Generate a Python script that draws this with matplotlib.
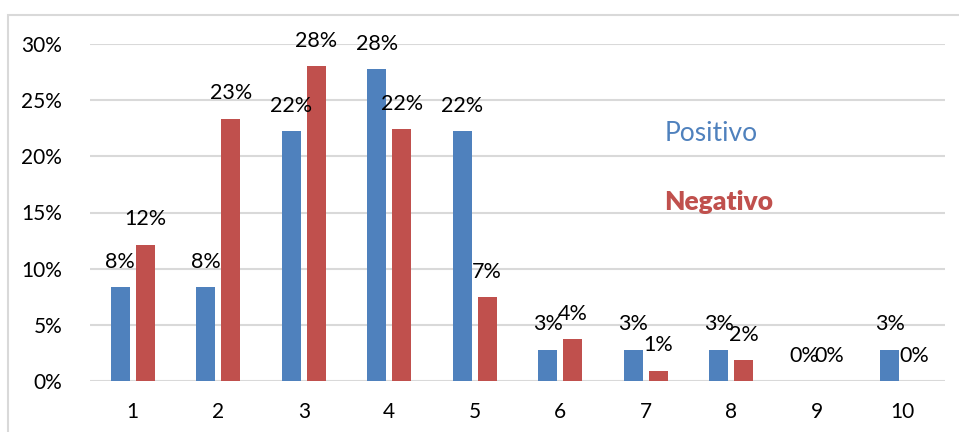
import numpy as np
import matplotlib
matplotlib.use("Agg")
import matplotlib.pyplot as plt
from matplotlib.patches import Rectangle
from matplotlib.ticker import PercentFormatter

# ── data ─────────────────────────────────────────────────────────────
categories = ["1", "2", "3", "4", "5", "6", "7", "8", "9", "10"]
positivo = [8.33, 8.33, 22.22, 27.78, 22.22, 2.78, 2.78, 2.78, 0.0, 2.78]
negativo = [12.15, 23.36, 28.04, 22.43, 7.48, 3.74, 0.93, 1.87, 0.0, 0.0]
yticks = [0, 5, 10, 15, 20, 25, 30]

BLUE = "#4F81BD"
RED = "#C0504D"
GRID = "#D9D9D9"

plt.rcParams["font.family"] = ["Lato", "DejaVu Sans"]

fig = plt.figure(figsize=(9.59, 4.32), dpi=100)
ax = fig.add_axes([90 / 959, 1 - 381 / 432, 855 / 959, (381 - 44) / 432])

x = np.arange(len(categories))
w = 0.225
off = 0.145
bars_p = ax.bar(x - off, positivo, w, color=BLUE, zorder=3)
bars_n = ax.bar(x + off, negativo, w, color=RED, zorder=3)

for bars, vals in ((bars_p, positivo), (bars_n, negativo)):
    for b, v in zip(bars, vals):
        ax.annotate(f"{v:.0f}%", (b.get_x() + b.get_width() / 2, v),
                    xytext=(0, 11), textcoords="offset points",
                    ha="center", va="bottom", fontsize=15.5, color="#000000")

ax.set_xlim(-0.5, len(categories) - 0.5)
ax.set_ylim(0, 30)
ax.set_yticks(yticks)
ax.yaxis.set_major_formatter(PercentFormatter(decimals=0))
ax.set_xticks(x)
ax.set_xticklabels(categories)
ax.tick_params(length=0, labelsize=15, colors="#000000")
ax.tick_params(axis="y", pad=20)
ax.tick_params(axis="x", pad=15)
ax.grid(axis="y", color=GRID, linewidth=1.5, zorder=0)
for s in ax.spines.values():
    s.set_visible(False)

ax.text(0.672, 0.733, "Positivo", transform=ax.transAxes, color=BLUE,
        fontsize=19, va="center", ha="left")
ax.text(0.672, 0.53, "Negativo", transform=ax.transAxes, color=RED,
        fontsize=19, fontweight="heavy", va="center", ha="left")

# outer chart frame
fig.patches.append(Rectangle((8 / 959, -0.05), 1.0, 1 - 15 / 432 + 0.05,
                             transform=fig.transFigure, fill=False,
                             edgecolor=GRID, linewidth=1.5))

fig.savefig("out.png", dpi=100, facecolor="white")
